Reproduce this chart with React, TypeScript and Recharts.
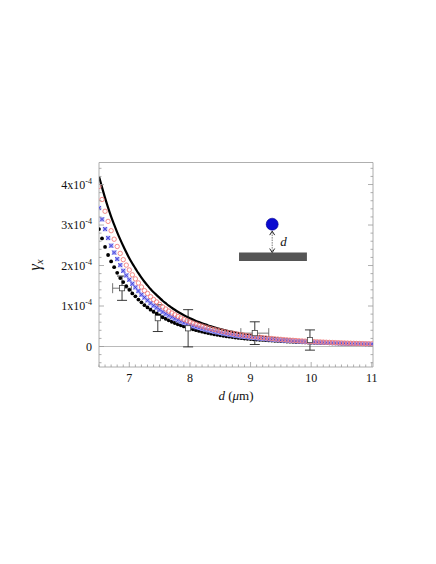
import React from 'react';
import {
  ComposedChart, Line, Scatter, XAxis, YAxis, ErrorBar,
  ReferenceLine, ReferenceArea, ReferenceDot,
} from 'recharts';

// separation d (um), 0.05 grid shared by the theory curves
const distances = [
  6.5, 6.55, 6.6, 6.65, 6.7, 6.75, 6.8, 6.85, 6.9, 6.95,
  7.0, 7.05, 7.1, 7.15, 7.2, 7.25, 7.3, 7.35, 7.4, 7.45,
  7.5, 7.55, 7.6, 7.65, 7.7, 7.75, 7.8, 7.85, 7.9, 7.95,
  8.0, 8.05, 8.1, 8.15, 8.2, 8.25, 8.3, 8.35, 8.4, 8.45,
  8.5, 8.55, 8.6, 8.65, 8.7, 8.75, 8.8, 8.85, 8.9, 8.95,
  9.0, 9.05, 9.1, 9.15, 9.2, 9.25, 9.3, 9.35, 9.4, 9.45,
  9.5, 9.55, 9.6, 9.65, 9.7, 9.75, 9.8, 9.85, 9.9, 9.95,
  10.0, 10.05, 10.1, 10.15, 10.2, 10.25, 10.3, 10.35, 10.4, 10.45,
  10.5, 10.55, 10.6, 10.65, 10.7, 10.75, 10.8, 10.85, 10.9, 10.95,
  11.0,
];

// gamma_x in units of 1e-4
const gammaSolid = [
  4.2, 3.93, 3.67, 3.43, 3.21, 3.01, 2.82, 2.645, 2.48, 2.325,
  2.18, 2.05, 1.93, 1.81, 1.7, 1.6, 1.51, 1.42, 1.34, 1.27,
  1.2, 1.13, 1.07, 1.01, 0.957, 0.907, 0.859, 0.815, 0.773, 0.735,
  0.698, 0.664, 0.632, 0.602, 0.573, 0.546, 0.52, 0.496, 0.474, 0.453,
  0.432, 0.413, 0.395, 0.378, 0.362, 0.347, 0.332, 0.318, 0.305, 0.293,
  0.281, 0.27, 0.259, 0.249, 0.239, 0.23, 0.221, 0.213, 0.205, 0.197,
  0.189, 0.182, 0.176, 0.169, 0.163, 0.157, 0.151, 0.146, 0.141, 0.136,
  0.131, 0.126, 0.122, 0.118, 0.114, 0.11, 0.106, 0.102, 0.099, 0.096,
  0.093, 0.09, 0.087, 0.084, 0.081, 0.078, 0.076, 0.073, 0.071, 0.069,
  0.067,
];

const gammaRed = [
  3.95, 3.63, 3.34, 3.09, 2.86, 2.65, 2.47, 2.3, 2.145, 2.01,
  1.89, 1.77, 1.67, 1.57, 1.47, 1.38, 1.31, 1.23, 1.16, 1.1,
  1.04, 0.977, 0.926, 0.874, 0.828, 0.785, 0.743, 0.705, 0.669, 0.636,
  0.604, 0.576, 0.55, 0.526, 0.503, 0.48, 0.459, 0.439, 0.421, 0.404,
  0.387, 0.37, 0.355, 0.341, 0.327, 0.314, 0.301, 0.288, 0.277, 0.266,
  0.256, 0.246, 0.237, 0.228, 0.219, 0.212, 0.204, 0.197, 0.19, 0.183,
  0.176, 0.17, 0.164, 0.158, 0.153, 0.148, 0.142, 0.138, 0.133, 0.129,
  0.124, 0.12, 0.116, 0.113, 0.109, 0.105, 0.102, 0.098, 0.095, 0.093,
  0.09, 0.087, 0.084, 0.081, 0.079, 0.076, 0.074, 0.071, 0.069, 0.068,
  0.066,
];

const gammaBlue = [
  3.42, 3.14, 2.9, 2.68, 2.49, 2.32, 2.16, 2.01, 1.87, 1.755,
  1.65, 1.55, 1.46, 1.37, 1.28, 1.21, 1.14, 1.07, 1.01, 0.959,
  0.906, 0.853, 0.808, 0.763, 0.723, 0.685, 0.649, 0.615, 0.584, 0.555,
  0.527, 0.503, 0.481, 0.46, 0.439, 0.42, 0.401, 0.384, 0.368, 0.352,
  0.337, 0.322, 0.308, 0.295, 0.282, 0.271, 0.259, 0.249, 0.24, 0.231,
  0.223, 0.215, 0.207, 0.2, 0.193, 0.186, 0.18, 0.174, 0.168, 0.162,
  0.156, 0.151, 0.147, 0.141, 0.137, 0.132, 0.128, 0.124, 0.12, 0.116,
  0.112, 0.108, 0.105, 0.102, 0.098, 0.095, 0.092, 0.089, 0.086, 0.084,
  0.082, 0.079, 0.077, 0.074, 0.072, 0.069, 0.068, 0.065, 0.064, 0.062,
  0.06,
];

const gammaBlack = [
  2.9, 2.67, 2.46, 2.26, 2.1, 1.96, 1.82, 1.69, 1.59, 1.49,
  1.4, 1.31, 1.24, 1.16, 1.09, 1.02, 0.966, 0.909, 0.858, 0.813,
  0.768, 0.723, 0.685, 0.646, 0.612, 0.58, 0.55, 0.522, 0.495, 0.47,
  0.447, 0.425, 0.404, 0.385, 0.367, 0.349, 0.333, 0.317, 0.303, 0.29,
  0.276, 0.264, 0.253, 0.242, 0.232, 0.222, 0.212, 0.205, 0.198, 0.192,
  0.185, 0.179, 0.173, 0.167, 0.162, 0.156, 0.151, 0.147, 0.142, 0.137,
  0.132, 0.128, 0.124, 0.119, 0.115, 0.111, 0.108, 0.104, 0.101, 0.098,
  0.094, 0.091, 0.089, 0.087, 0.085, 0.083, 0.08, 0.077, 0.075, 0.073,
  0.071, 0.069, 0.067, 0.065, 0.063, 0.061, 0.059, 0.057, 0.055, 0.054,
  0.052,
];

// measured points
const expD = [6.88, 7.47, 7.97, 9.07, 9.98];
const expGamma = [1.44, 0.7, 0.45, 0.33, 0.16];
const expGammaErr = [0.3, 0.33, 0.46, 0.28, 0.25];
const expDErr = [0.155, 0, 0, 0.23, 0];

const xMajor = [7, 8, 9, 10, 11];
const xTickLabels = ['7', '8', '9', '10', '11'];
const yMajor = [0, 1, 2, 3, 4];
const yTickLabels = ['0', '1x10', '2x10', '3x10', '4x10'];

const xMinor = Array.from({ length: 46 }, (_, i) => Math.round((6.5 + i * 0.1) * 100) / 100);
const yMinor = Array.from({ length: 25 }, (_, i) => Math.round((-0.4 + i * 0.2) * 100) / 100);

const FONT = '"Liberation Serif", "Times New Roman", serif';
const AXIS = '#9a9a9a';

const toSeries = (vals: number[]) => distances.map((d, i) => ({ d, g: vals[i] }));
const solidData = toSeries(gammaSolid);
const redData = toSeries(gammaRed);
const blueData = toSeries(gammaBlue);
const blackData = toSeries(gammaBlack);
const expData = expD.map((d, i) => ({ d, g: expGamma[i], eg: expGammaErr[i], ed: expDErr[i] }));

const idx = (list: number[], v: number) => list.findIndex((m) => Math.abs(m - v) < 1e-6);

const XTick = (props: any) => {
  const { x, y, payload, top } = props;
  const k = idx(xMajor, payload.value);
  const len = k >= 0 ? 5 : 2.5;
  const dir = top ? 1 : -1;
  return (
    <g>
      <line x1={x} x2={x} y1={y} y2={y + dir * len} stroke={AXIS} strokeWidth={0.8} />
      {k >= 0 && !top && (
        <text x={x} y={y + 15} textAnchor="middle" fontSize={12} fontFamily={FONT} fill="#111">
          {xTickLabels[k]}
        </text>
      )}
    </g>
  );
};

const YTick = (props: any) => {
  const { x, y, payload, right } = props;
  const k = idx(yMajor, payload.value);
  const len = k >= 0 ? 5 : 2.5;
  const dir = right ? -1 : 1;
  return (
    <g>
      <line x1={x} x2={x + dir * len} y1={y} y2={y} stroke={AXIS} strokeWidth={0.8} />
      {k >= 0 && !right && (
        <text x={x - 7} y={y + 4} textAnchor="end" fontSize={12} fontFamily={FONT} fill="#111">
          {yTickLabels[k]}
          {k > 0 && <tspan dy={-5} fontSize={8}>-4</tspan>}
        </text>
      )}
    </g>
  );
};

const RedCircle = (p: any) => (
  <circle cx={p.cx} cy={p.cy} r={2.2} fill="none" stroke="#f27d7d" strokeWidth={0.9} />
);
const BlueSquare = (p: any) => (
  <g>
    <rect x={p.cx - 2.2} y={p.cy - 2.2} width={4.4} height={4.4} fill="#a0a0f4" />
    <path
      d={`M${p.cx - 2} ${p.cy - 2}L${p.cx + 2} ${p.cy + 2}M${p.cx - 2} ${p.cy + 2}L${p.cx + 2} ${p.cy - 2}`}
      stroke="#3a3ad8"
      strokeWidth={0.8}
    />
  </g>
);
const BlackDot = (p: any) => <circle cx={p.cx} cy={p.cy} r={1.9} fill="#000" />;
const ExpSquare = (p: any) => (
  <rect x={p.cx - 2.6} y={p.cy - 2.6} width={5.2} height={5.2} fill="#fff" stroke="#444" strokeWidth={0.8} />
);

// double-headed arrow of the inset sketch
const Arrow = (p: any) => {
  const { x1, y1, x2, y2 } = p;
  const top = Math.min(y1, y2);
  const bot = Math.max(y1, y2);
  return (
    <g>
      <line x1={x1} x2={x2} y1={top + 1} y2={bot - 1} stroke="#555" strokeWidth={0.8} strokeDasharray="1.5 1" />
      <path d={`M${x1 - 2.5} ${top + 4}L${x1} ${top}L${x1 + 2.5} ${top + 4}`} fill="none" stroke="#111" strokeWidth={0.9} />
      <path d={`M${x1 - 2.5} ${bot - 4}L${x1} ${bot}L${x1 + 2.5} ${bot - 4}`} fill="none" stroke="#111" strokeWidth={0.9} />
      <text x={x1 + 8} y={(top + bot) / 2 + 4} fontSize={13} fontStyle="italic" fontFamily={FONT} fill="#111">d</text>
    </g>
  );
};

export default function App() {
  return (
    <div style={{ width: 420, height: 548 }}>
      <ComposedChart width={420} height={548} margin={{ top: 153.5, right: 54, bottom: 188, left: 90 }}>
        <XAxis
          dataKey="d"
          type="number"
          domain={[6.5, 11.02]}
          ticks={xMinor}
          interval={0}
          allowDataOverflow
          height={1}
          tickSize={0}
          tickMargin={0}
          tickLine={false}
          axisLine={{ stroke: AXIS, strokeWidth: 0.8 }}
          tick={<XTick />}
          label={{
            content: () => (
              <text x={228} y={392} textAnchor="middle" fontSize={13} fontFamily={FONT} fill="#111">
                <tspan fontStyle="italic">d</tspan> (<tspan fontStyle="italic">μ</tspan>m)
              </text>
            ),
          }}
        />
        <XAxis
          xAxisId="top"
          orientation="top"
          type="number"
          domain={[6.5, 11.02]}
          ticks={xMinor}
          interval={0}
          allowDataOverflow
          height={1}
          tickSize={0}
          tickMargin={0}
          tickLine={false}
          axisLine={{ stroke: AXIS, strokeWidth: 0.8 }}
          tick={<XTick top />}
        />
        <YAxis
          dataKey="g"
          type="number"
          domain={[-0.506, 4.544]}
          ticks={yMinor}
          interval={0}
          allowDataOverflow
          width={1}
          tickSize={0}
          tickMargin={0}
          tickLine={false}
          axisLine={{ stroke: AXIS, strokeWidth: 0.8 }}
          tick={<YTick />}
          label={{
            content: () => (
              <text
                x={32}
                y={257}
                transform="rotate(-90, 32, 257)"
                textAnchor="middle"
                fontSize={16}
                fontStyle="italic"
                fontFamily={FONT}
                fill="#111"
              >
                γ<tspan fontSize={11} dy={3}>x</tspan>
              </text>
            ),
          }}
        />
        <YAxis
          yAxisId="right"
          orientation="right"
          type="number"
          domain={[-0.506, 4.544]}
          ticks={yMinor}
          interval={0}
          allowDataOverflow
          width={1}
          tickSize={0}
          tickMargin={0}
          tickLine={false}
          axisLine={{ stroke: AXIS, strokeWidth: 0.8 }}
          tick={<YTick right />}
        />
        <ReferenceLine y={0} stroke="#a8a8a8" strokeWidth={0.8} />

        <ReferenceArea x1={8.81} x2={9.93} y1={2.11} y2={2.32} fill="#555" fillOpacity={1} stroke="none" />
        <ReferenceLine segment={[{ x: 9.357, y: 2.85 }, { x: 9.357, y: 2.32 }]} shape={<Arrow />} />
        <ReferenceDot x={9.357} y={3.02} r={6} fill="#0a0ad0" stroke="#000090" strokeWidth={0.6} />

        <Line data={solidData} dataKey="g" type="monotone" stroke="#000" strokeWidth={2.2} dot={false} isAnimationActive={false} />
        <Scatter data={blackData} dataKey="g" shape={<BlackDot />} isAnimationActive={false} />
        <Scatter data={blueData} dataKey="g" shape={<BlueSquare />} isAnimationActive={false} />
        <Scatter data={redData} dataKey="g" shape={<RedCircle />} isAnimationActive={false} />
        <Scatter data={expData} dataKey="g" shape={<ExpSquare />} isAnimationActive={false}>
          <ErrorBar dataKey="eg" direction="y" width={5} stroke="#222" strokeWidth={0.9} isAnimationActive={false} />
          <ErrorBar dataKey="ed" direction="x" width={5} stroke="#666" strokeWidth={0.9} isAnimationActive={false} />
        </Scatter>
      </ComposedChart>
    </div>
  );
}
